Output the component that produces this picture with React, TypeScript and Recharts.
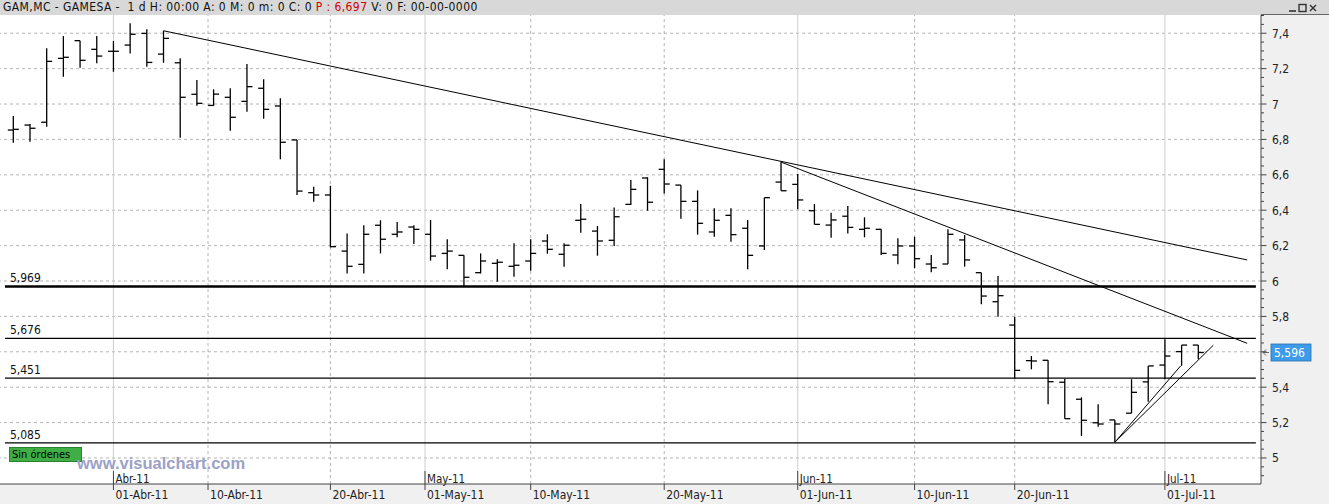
import React from 'react';
import { ComposedChart, Scatter, ErrorBar, XAxis, YAxis, ReferenceLine } from 'recharts';

// ---- data (daily OHLC, GAMESA, 24-Mar-11 .. 05-Jul-11) ----
const opens = [
  6.853, 6.881, 6.897, 7.258, 7.358, 7.309, 7.298, 7.333, 7.399, 7.282,
  7.233, 7.055, 6.992, 7.038, 7.015, 7.089, 6.989, 6.797, 6.499, 6.486,
  6.169, 6.094, 6.315, 6.264, 6.305, 6.264, 6.156, 6.145, 6.047, 6.100,
  6.083, 6.113, 6.226, 6.151, 6.343, 6.282, 6.230, 6.433, 6.582, 6.631,
  6.542, 6.450, 6.277, 6.371, 6.298, 6.198, 6.559, 6.546, 6.397, 6.316,
  6.366, 6.292, 6.292, 6.147, 6.198, 6.096, 6.096, 6.232, 6.047, 5.883,
  5.751, 5.550, 5.552, 5.428, 5.332, 5.199, 5.215, 5.253, 5.430, 5.525,
  5.601, 5.638,
];
const highs = [
  6.932, 6.887, 7.315, 7.384, 7.358, 7.384, 7.356, 7.456, 7.422, 7.414,
  7.258, 7.136, 7.083, 7.089, 7.226, 7.140, 7.032, 6.797, 6.533, 6.538,
  6.269, 6.315, 6.343, 6.333, 6.315, 6.345, 6.236, 6.145, 6.156, 6.123,
  6.213, 6.236, 6.264, 6.213, 6.435, 6.311, 6.416, 6.571, 6.586, 6.688,
  6.542, 6.512, 6.411, 6.411, 6.345, 6.471, 6.674, 6.605, 6.435, 6.386,
  6.424, 6.360, 6.292, 6.241, 6.250, 6.147, 6.292, 6.260, 6.047, 6.028,
  5.798, 5.576, 5.552, 5.448, 5.343, 5.303, 5.215, 5.445, 5.520, 5.671,
  5.638, 5.638,
];
const lows = [
  6.781, 6.787, 6.872, 7.154, 7.205, 7.230, 7.182, 7.286, 7.211, 7.233,
  6.810, 6.990, 6.990, 6.849, 6.957, 6.917, 6.688, 6.486, 6.448, 6.190,
  6.043, 6.043, 6.156, 6.247, 6.209, 6.115, 6.066, 5.972, 6.043, 5.996,
  6.024, 6.058, 6.154, 6.081, 6.273, 6.143, 6.198, 6.429, 6.397, 6.495,
  6.352, 6.262, 6.250, 6.222, 6.066, 6.175, 6.510, 6.405, 6.320, 6.245,
  6.269, 6.247, 6.147, 6.094, 6.072, 6.049, 6.096, 6.081, 5.868, 5.798,
  5.448, 5.501, 5.303, 5.222, 5.124, 5.177, 5.089, 5.253, 5.318, 5.445,
  5.521, 5.558,
];
const closes = [
  6.857, 6.863, 7.241, 7.264, 7.247, 7.271, 7.298, 7.394, 7.235, 7.371,
  7.038, 7.004, 7.056, 6.925, 7.098, 6.970, 6.784, 6.508, 6.486, 6.194,
  6.083, 6.264, 6.236, 6.277, 6.292, 6.141, 6.169, 6.021, 6.113, 6.106,
  6.089, 6.156, 6.179, 6.202, 6.349, 6.226, 6.363, 6.518, 6.445, 6.548,
  6.450, 6.326, 6.343, 6.262, 6.145, 6.471, 6.510, 6.458, 6.320, 6.345,
  6.303, 6.298, 6.156, 6.198, 6.126, 6.075, 6.264, 6.119, 5.915, 5.917,
  5.495, 5.548, 5.431, 5.222, 5.213, 5.192, 5.192, 5.371, 5.520, 5.576,
  5.638, 5.596,
];

// x-axis (bar index) tick positions and labels
const dayTicks = [6, 11.667, 19, 24.667, 31, 39, 47, 54, 60, 69];
const dayLabels = ['01-Abr-11', '10-Abr-11', '20-Abr-11', '01-May-11', '10-May-11', '20-May-11', '01-Jun-11', '10-Jun-11', '20-Jun-11', '01-Jul-11'];
const monthTicks = [6, 24.667, 47, 69];
const monthLabels = ['Abr-11', 'May-11', 'Jun-11', 'Jul-11'];

// y-axis ticks
const majorTicks = [5, 5.2, 5.4, 5.6, 5.8, 6, 6.2, 6.4, 6.6, 6.8, 7, 7.2, 7.4];
const allTicks = Array.from({ length: 53 }, (_, k) => +(4.9 + k * 0.05).toFixed(2));

// horizontal levels
const levels = [5.969, 5.676, 5.451, 5.085];
const levelLabels = ['5,969', '5,676', '5,451', '5,085'];
const levelWidths = [2.6, 1.3, 1.3, 1.3];

// trendlines [x index, price]
const trendlines = [
  [{ x: 9, y: 7.414 }, { x: 73.93, y: 6.119 }],
  [{ x: 46, y: 6.672 }, { x: 73.93, y: 5.648 }],
  [{ x: 66, y: 5.089 }, { x: 69.95, y: 5.521 }],
  [{ x: 66, y: 5.089 }, { x: 71.9, y: 5.637 }],
];

const data = opens.map((o, i) => {
  const mid = (highs[i] + lows[i]) / 2;
  return { x: i, mid, err: [mid - lows[i], highs[i] - mid], open: o, close: closes[i] };
});

const lastClose = closes[closes.length - 1];

const FONT = '"DejaVu Sans Condensed", "DejaVu Sans", sans-serif';
const fmt = (v: number) => String(Number(v.toFixed(1))).replace('.', ',');

const PriceTick = (props: any) => {
  const { x, y, payload } = props;
  const v = payload.value;
  const major = majorTicks.some((m) => Math.abs(m - v) < 1e-6);
  const hidden = Math.abs(v - lastClose) < 0.06;
  return (
    <g>
      <line x1={x} x2={x + (major ? 5.5 : 3)} y1={y} y2={y} stroke="#444" strokeWidth={1} />
      {major && !hidden && (
        <text x={x + 11} y={y + 4.5} fontSize={12} fontFamily={FONT} fill="#222">
          {fmt(v)}
        </text>
      )}
    </g>
  );
};

const DayTick = (props: any) => {
  const { x, y, index } = props;
  return (
    <g>
      <line x1={x} x2={x} y1={y} y2={y + 6} stroke="#444" />
      <text x={x + 2} y={y + 14.5} fontSize={12} fontFamily={FONT} fill="#222">
        {dayLabels[index]}
      </text>
    </g>
  );
};

const BAR_W = 1.3;

export default function App() {
  return (
    <div style={{ position: 'absolute', left: 0, top: 0, width: 1329, height: 504, background: '#f0f0f0', overflow: 'hidden' }}>
      <div style={{ position: 'absolute', left: 0, top: 15, width: 1261, height: 469, background: '#ffffff' }} />
      <div style={{ position: 'absolute', left: 0, top: 0 }}>
        <ComposedChart width={1329} height={504} data={data} margin={{ top: 15, right: 0, bottom: 0, left: 0 }}>
          <XAxis
            type="number"
            dataKey="x"
            domain={[-0.797, 74.757]}
            allowDataOverflow
            ticks={dayTicks}
            interval={0}
            tick={<DayTick />}
            tickSize={0}
            tickMargin={0}
            tickLine={false}
            height={20}
            axisLine={{ stroke: '#444' }}
          />
          <YAxis
            orientation="right"
            type="number"
            domain={[4.853, 7.503]}
            allowDataOverflow
            ticks={allTicks}
            interval={0}
            tick={<PriceTick />}
            tickSize={0}
            tickMargin={0}
            tickLine={false}
            width={68}
            axisLine={{ stroke: '#444' }}
          />
          {majorTicks.map((m) => (
            <ReferenceLine key={'h' + m} y={m} stroke="#b4b4b4" strokeDasharray="3 3" />
          ))}
          {dayTicks.map((d) =>
            monthTicks.includes(d) ? (
              <ReferenceLine key={'v' + d} x={d} stroke="#cfcfcf" />
            ) : (
              <ReferenceLine key={'v' + d} x={d} stroke="#b4b4b4" strokeDasharray="3 3" />
            )
          )}
          {monthTicks.map((m, i) => (
            <ReferenceLine
              key={'m' + m}
              x={m}
              stroke="none"
              label={(p: any) => {
                const vb = p.viewBox;
                const bottom = vb.y + vb.height;
                return (
                  <g>
                    <line x1={vb.x} x2={vb.x} y1={bottom - 13} y2={bottom} stroke="#444" />
                    <text x={vb.x + 2} y={bottom - 1.5} fontSize={11.5} fontFamily={FONT} fill="#222">
                      {monthLabels[i]}
                    </text>
                  </g>
                );
              }}
            />
          ))}
          {levels.map((lv, i) => (
            <ReferenceLine
              key={'l' + lv}
              segment={[{ x: -0.5, y: lv }, { x: 74.45, y: lv }]}
              stroke="#000"
              strokeWidth={levelWidths[i]}
              label={(p: any) => {
                const vb = p.viewBox;
                return (
                  <text x={vb.x + 5} y={vb.y - 4} fontSize={12} fontFamily={FONT} fill="#111">
                    {levelLabels[i]}
                  </text>
                );
              }}
            />
          ))}
          {trendlines.map((seg, i) => (
            <ReferenceLine key={'t' + i} segment={seg} stroke="#000" strokeWidth={1} />
          ))}
          <Scatter dataKey="mid" isAnimationActive={false} shape={() => <g />}>
            <ErrorBar dataKey="err" direction="y" width={0} stroke="#000" strokeWidth={BAR_W} isAnimationActive={false} />
          </Scatter>
          <Scatter
            dataKey="open"
            isAnimationActive={false}
            shape={(p: any) => <line x1={p.cx - 5.5} x2={p.cx} y1={p.cy} y2={p.cy} stroke="#000" strokeWidth={BAR_W} />}
          />
          <Scatter
            dataKey="close"
            isAnimationActive={false}
            shape={(p: any) => <line x1={p.cx} x2={p.cx + 5.5} y1={p.cy} y2={p.cy} stroke="#000" strokeWidth={BAR_W} />}
          />
          <ReferenceLine
            y={lastClose}
            stroke="none"
            label={(p: any) => {
              const vb = p.viewBox;
              const ax = vb.x + vb.width;
              const cy = vb.y;
              return (
                <g>
                  <line x1={ax + 2} x2={ax + 8} y1={cy} y2={cy} stroke="#666" />
                  <polyline points={`${ax + 5},${cy - 3} ${ax + 2},${cy} ${ax + 5},${cy + 3}`} fill="none" stroke="#666" />
                  <rect x={ax + 10} y={cy - 8.5} width={40} height={17} fill="#3d9be9" stroke="#2a6fb0" strokeWidth={0.8} />
                  <text x={ax + 13} y={cy + 4.5} fontSize={12} fontFamily={FONT} fill="#ffffff">
                    {lastClose.toFixed(3).replace('.', ',')}
                  </text>
                </g>
              );
            }}
          />
        </ComposedChart>
      </div>
      {/* header */}
      <div
        style={{
          position: 'absolute', left: 0, top: 0, width: 1329, height: 15, background: '#d8d8d8',
          fontFamily: FONT, fontSize: 12, letterSpacing: 0.42, lineHeight: '15px', whiteSpace: 'pre', color: '#111',
        }}
      >
        <span style={{ marginLeft: 3 }}>{'GAM,MC - GAMESA -  1 d H: 00:00 A: 0 M: 0 m: 0 C: 0 '}</span>
        <span style={{ color: '#d00000' }}>{'P : 6,697'}</span>
        <span>{' V: 0 F: 00-00-0000'}</span>
      </div>
      <div style={{ position: 'absolute', left: 1261, top: 14, width: 68, height: 1, background: '#666' }} />
      <svg style={{ position: 'absolute', left: 1285, top: 1 }} width={40} height={13}>
        <line x1={4} x2={11} y1={10} y2={10} stroke="#333" strokeWidth={1.6} />
        <rect x={14} y={3.5} width={7} height={7} fill="none" stroke="#333" strokeWidth={1.4} />
        <line x1={25} x2={31} y1={4} y2={10} stroke="#333" strokeWidth={1.4} />
        <line x1={31} x2={25} y1={4} y2={10} stroke="#333" strokeWidth={1.4} />
      </svg>
      {/* Sin órdenes */}
      <div
        style={{
          position: 'absolute', left: 9, top: 447, width: 69, height: 13, background: '#3fae45',
          border: '1px solid #2b7f2f', fontFamily: FONT, fontSize: 11, lineHeight: '13px', color: '#000', paddingLeft: 2,
        }}
      >
        Sin órdenes
      </div>
      {/* watermark */}
      <div
        style={{
          position: 'absolute', left: 77, top: 455, fontFamily: '"Liberation Sans", Arial, sans-serif', fontWeight: 'bold',
          fontSize: 16.5, lineHeight: '16px', color: '#9ca1c8', whiteSpace: 'nowrap',
        }}
      >
        www.visualchart.com
      </div>
    </div>
  );
}
